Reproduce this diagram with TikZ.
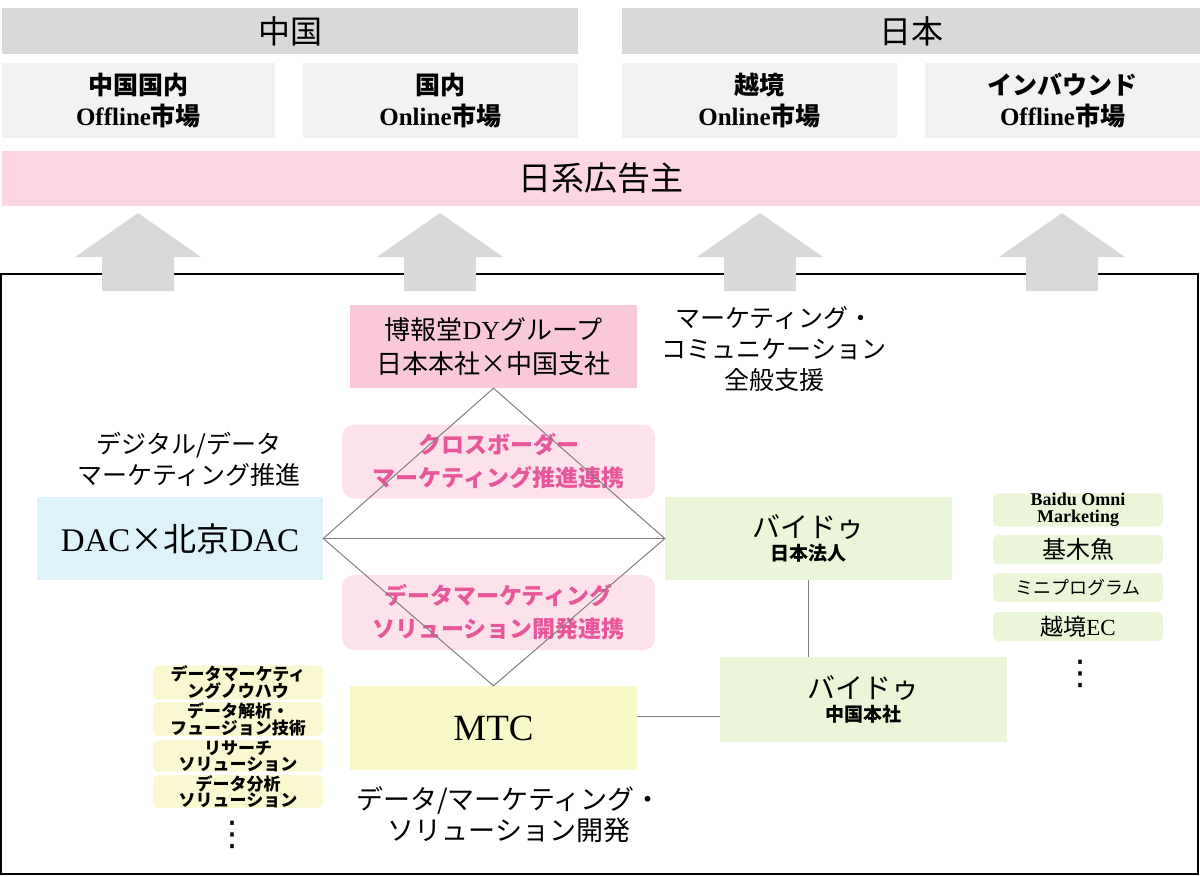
\documentclass[tikz,border=0pt]{standalone}
\usepackage{fontspec}
\setmainfont{Noto Sans CJK JP}
\newfontfamily\lat{Liberation Serif}
\newfontfamily\sym{DejaVu Sans}
\usepackage{xcolor}
\definecolor{regiongray}{RGB}{217,217,217}
\definecolor{marketgray}{RGB}{242,242,242}
\definecolor{advpink}{RGB}{252,214,226}
\definecolor{hakupink}{RGB}{249,200,217}
\definecolor{linkpink}{RGB}{253,226,236}
\definecolor{linktext}{RGB}{232,87,154}
\definecolor{dacblue}{RGB}{222,242,250}
\definecolor{baidugreen}{RGB}{235,246,217}
\definecolor{mtcyellow}{RGB}{248,248,200}
\definecolor{toolyellow}{RGB}{250,248,208}
\definecolor{linegray}{RGB}{128,128,128}

\tikzset{
  region/.style={fill=regiongray, minimum height=46pt, inner sep=0pt,
    font=\fontsize{32}{34}\selectfont},
  market/.style={fill=marketgray, minimum width=275pt, minimum height=75pt,
    inner sep=0pt, align=center, font=\bfseries\fontsize{25}{31}\selectfont},
  corpbox/.style={minimum width=287pt, minimum height=83pt, inner sep=0pt,
    align=center},
  linkbox/.style={fill=linkpink, rounded corners=12pt, minimum width=313pt,
    minimum height=74pt, inner sep=0pt, align=center, text=linktext,
    font=\bfseries\fontsize{23}{33}\selectfont},
  toolbox/.style={rounded corners=5pt, minimum width=170pt,
    minimum height=29pt, inner sep=0pt, align=center},
  note/.style={align=center, font=\fontsize{25}{31}\selectfont},
  link/.style={draw=linegray, line width=1pt},
  upshape/.style={fill=regiongray},
  more/.style={font=\sym\fontsize{34}{36}\selectfont, inner sep=0pt}
}

\begin{document}
\begin{tikzpicture}[x=1pt,y=-1pt]
\useasboundingbox (0,0) rectangle (1200,876);

% regions and markets
\node[region, minimum width=576pt] (cn) at (290,31) {中国};
\node[region, minimum width=578pt] (jp) at (911,31) {日本};
\node[market, minimum width=273pt] (mkt1) at (138.5,100.5) {中国国内\\{\lat Offline}市場};
\node[market] (mkt2) at (440.5,100.5) {国内\\{\lat Online}市場};
\node[market] (mkt3) at (759.5,100.5) {越境\\{\lat Online}市場};
\node[market] (mkt4) at (1062.5,100.5) {インバウンド\\{\lat Offline}市場};
\node[fill=advpink, minimum width=1198pt, minimum height=55pt, inner sep=0pt,
  font=\fontsize{33}{35}\selectfont] (adv) at (601,178.5) {日系広告主};

% frame
\draw[line width=1.5pt] (1,274) rectangle (1198,874);

% up arrows
\foreach \ax in {138,440,760,1062}
  \fill[upshape] (\ax,213) -- (\ax+63,257) -- (\ax+36,257) -- (\ax+36,291)
    -- (\ax-36,291) -- (\ax-36,257) -- (\ax-63,257) -- cycle;

% companies
\node[corpbox, fill=hakupink, font=\fontsize{26}{34}\selectfont] (haku) at (493.5,346.5)
  {博報堂{\lat DY}グループ\\日本本社×中国支社};
\node[note] (hakunote) at (774,349) {マーケティング・\\コミュニケーション\\全般支援};

\node[linkbox] (cross) at (498.5,461.5) {クロスボーダー\\マーケティング推進連携};
\node[linkbox, minimum height=75pt] (datalink) at (498.5,612.5) {データマーケティング\\ソリューション開発連携};

\node[corpbox, minimum width=286pt, fill=dacblue, font=\fontsize{33}{35}\selectfont] (dac) at (180,538.5)
  {{\lat DAC}×北京{\lat DAC}};
\node[note] (dacnote) at (189,459) {デジタル/データ\\マーケティング推進};

\node[corpbox, fill=baidugreen] (bdjp) at (808.5,538.5)
  {{\fontsize{28}{34}\selectfont バイドゥ}\\[4pt]{\bfseries\fontsize{19}{22}\selectfont 日本法人}};
\node[corpbox, fill=baidugreen, minimum height=85pt] (bdcn) at (863.5,699.5)
  {{\fontsize{28}{34}\selectfont バイドゥ}\\[4pt]{\bfseries\fontsize{19}{22}\selectfont 中国本社}};

\node[corpbox, minimum height=84pt, fill=mtcyellow, font=\lat\fontsize{37}{39}\selectfont] (mtc) at (493.5,728) {MTC};
\node[note, font=\fontsize{27}{31}\selectfont] (mtcnote) at (509,815) {データ/マーケティング・\\ソリューション開発};

% connectors
\draw[link] (haku.south) -- (dac.east) -- (mtc.north) -- (bdjp.west) -- cycle;
\draw[link] (dac.east) -- (bdjp.west);
\draw[link] (bdjp.south) -- (bdjp.south |- bdcn.north);
\draw[link] ([yshift=12pt]mtc.east) -- ([yshift=12pt]mtc.east -| bdcn.west);

% MTC tools
\begin{scope}[every node/.style={toolbox, fill=toolyellow, font=\bfseries\fontsize{17}{14}\selectfont}]
  \node (know) at (238,682.5) {データマーケティ\\ングノウハウ};
  \node (fusion) at (238,719) {データ解析・\\フュージョン技術};
  \node (research) at (238,756) {リサーチ\\ソリューション};
  \node (analysis) at (238,791.5) {データ分析\\ソリューション};
\end{scope}
\node[more] (mtcmore) at (232,835) {⋮};

% Baidu tools
\begin{scope}[every node/.style={toolbox, fill=baidugreen}]
  \node[font=\lat\bfseries\fontsize{18}{17}\selectfont] (omni) at (1078,510) {Baidu Omni\\Marketing};
  \node[font=\fontsize{24}{26}\selectfont] (jimuyu) at (1078,549.5) {基木魚};
  \node[font=\fontsize{18}{20}\selectfont] (mini) at (1078,587.5) {ミニプログラム};
  \node[font=\fontsize{23}{25}\selectfont] (ec) at (1078,626.5) {越境{\lat EC}};
\end{scope}
\node[more] (bdmore) at (1080,674) {⋮};
\end{tikzpicture}
\end{document}
